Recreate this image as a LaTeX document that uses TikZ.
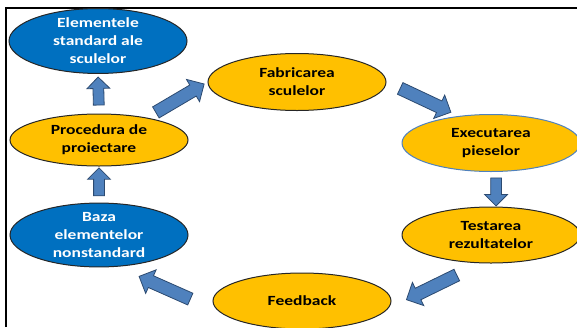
\documentclass[tikz,border=0pt]{standalone}
\usepackage{fontspec}
\setmainfont{Carlito}[FakeStretch=1.25]
\usetikzlibrary{shapes.geometric,shapes.arrows}

\definecolor{stdblue}{HTML}{0070C0}
\definecolor{procyellow}{HTML}{FFC000}
\definecolor{arrowblue}{HTML}{4F81BD}
\definecolor{arrowedge}{HTML}{2C4A70}

\begin{document}
\begin{tikzpicture}[x=1pt, y=-1pt,
  stage/.style={ellipse, draw=black!85, line width=1pt, minimum width=178pt, minimum height=56pt, inner sep=0pt, align=center, font=\fontsize{14}{18}\selectfont\bfseries},
  bluestage/.style={stage, fill=stdblue, text=white},
  yellowstage/.style={stage, fill=procyellow, text=black},
  flow/.style={single arrow, draw=arrowedge, fill=arrowblue, line width=0.8pt, inner xsep=0pt, inner ysep=6pt, minimum height=56pt, single arrow head extend=6.5pt, sloped, allow upside down},
  upflow/.style={flow, minimum height=28pt, inner ysep=5pt, single arrow head extend=6pt}]

\useasboundingbox (0,0) rectangle (577,327);
\draw[line width=2pt] (6,327) -- (6,8) -- (577,8);

% left column
\node[bluestage, minimum height=58pt] (elem) at (98,41) {Elementele\\standard ale\\sculelor};
\node[yellowstage, minimum height=52pt] (proc) at (99,140) {Procedura de\\proiectare};
\node[bluestage] (baza) at (99,235) {Baza\\elementelor\\nonstandard};

% cycle
\node[yellowstage, minimum height=57pt] (fab) at (297,82) {Fabricarea\\sculelor};
\node[yellowstage, draw=arrowblue, minimum height=57pt] (exec) at (491,143) {Executarea\\pieselor};
\node[yellowstage] (test) at (491,235) {Testarea\\rezultatelor};
\node[yellowstage] (feed) at (302,301) {Feedback};

\path (proc.north) -- (elem.south) node[upflow, midway] (a1) {};
\path (proc.25) -- (fab.west) node[flow, midway] (a2) {};
\path (fab.east) -- (exec.140) node[flow, midway] (a3) {};
\path (exec.-80) -- (test.80) node[upflow, midway] (a4) {};
\path (test.250) -- (feed.-5) node[flow, midway] (a5) {};
\path (feed.200) -- (baza.-60) node[flow, pos=0.6] (a6) {};
\path (baza.north) -- (proc.south) node[upflow, midway] (a7) {};
\end{tikzpicture}
\end{document}
